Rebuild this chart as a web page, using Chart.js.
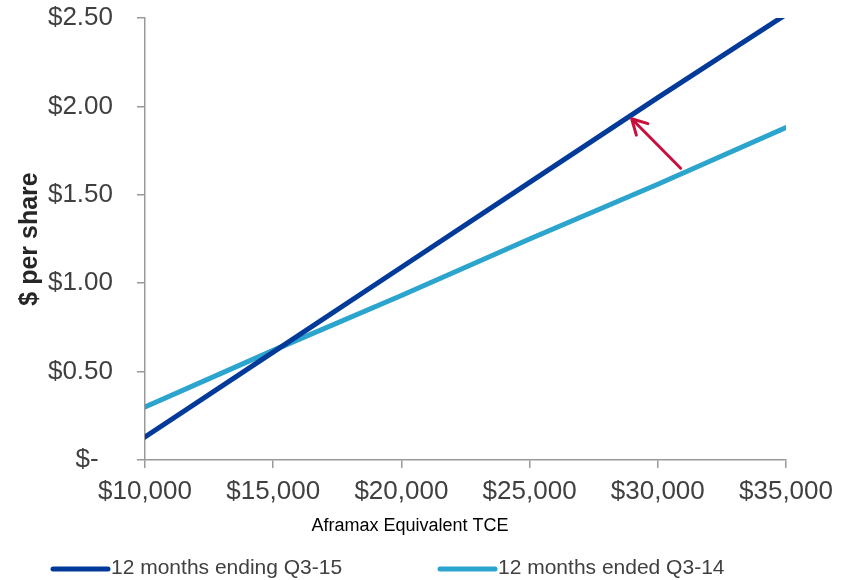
<!DOCTYPE html>
<html lang="en">
<head>
  <meta charset="utf-8">
  <title>$ per share vs Aframax TCE</title>
  <style>
    body { margin: 0; background: #fff; }
  </style>
</head>
<body>
  <canvas id="tceChart" width="846" height="580"></canvas>
  <script src="https://cdn.jsdelivr.net/npm/chart.js@4/dist/chart.umd.min.js"></script>
  <script>
    // values
    var tceLevels = [10000, 15000, 20000, 25000, 30000, 35000];
    var endingQ315 = [0.13, 0.61, 1.09, 1.57, 2.05, 2.52];
    var endedQ314 = [0.30, 0.62, 0.93, 1.25, 1.56, 1.88];
    var seriesNames = ['12 months ending Q3-15', '12 months ended Q3-14'];
    var arrowFrom = [30890, 1.65];
    var arrowTo = [28980, 1.93];

    var FONT = "'Liberation Sans', Arial, sans-serif";

    function toPoints(xs, ys) {
      return xs.map(function (x, i) { return { x: x, y: ys[i] }; });
    }

    // arrow + x title + legend, drawn from scales
    var extras = {
      id: 'extras',
      afterDatasetsDraw: function (chart) {
        var c = chart.ctx, xs = chart.scales.x, ys = chart.scales.y;
        var x1 = xs.getPixelForValue(arrowFrom[0]), y1 = ys.getPixelForValue(arrowFrom[1]);
        var x2 = xs.getPixelForValue(arrowTo[0]), y2 = ys.getPixelForValue(arrowTo[1]);
        var ang = Math.atan2(y2 - y1, x2 - x1);
        c.save();
        c.strokeStyle = '#C8103C';
        c.lineWidth = 3;
        c.lineCap = 'round';
        c.lineJoin = 'round';
        c.beginPath();
        c.moveTo(x1, y1);
        c.lineTo(x2, y2);
        c.moveTo(x2 - 17 * Math.cos(ang - 0.5), y2 - 17 * Math.sin(ang - 0.5));
        c.lineTo(x2, y2);
        c.lineTo(x2 - 17 * Math.cos(ang + 0.5), y2 - 17 * Math.sin(ang + 0.5));
        c.stroke();
        c.restore();
      },
      afterDraw: function (chart) {
        var c = chart.ctx;
        c.save();
        c.fillStyle = '#000';
        c.font = '18px ' + FONT;
        c.textAlign = 'center';
        c.textBaseline = 'alphabetic';
        c.fillText('Aframax Equivalent TCE', 410, 531);

        var items = [[53, 113], [440, 500]];
        c.font = '21px ' + FONT;
        c.textAlign = 'left';
        c.textBaseline = 'middle';
        chart.data.datasets.forEach(function (ds, i) {
          c.strokeStyle = ds.borderColor;
          c.lineWidth = 5;
          c.lineCap = 'round';
          c.beginPath();
          c.moveTo(items[i][0], 569);
          c.lineTo(items[i][0] + 55, 569);
          c.stroke();
          c.fillStyle = '#404040';
          c.fillText(ds.label, items[i][1] - 2, 568);
        });
        c.restore();
      }
    };

    var ctx = document.getElementById('tceChart');
    var chart = new Chart(ctx, {
      type: 'line',
      data: {
        datasets: [
          {
            label: seriesNames[0],
            data: toPoints(tceLevels, endingQ315),
            borderColor: '#023A9A',
            backgroundColor: '#023A9A',
            borderWidth: 5,
            borderCapStyle: 'round',
            pointRadius: 0,
            tension: 0
          },
          {
            label: seriesNames[1],
            data: toPoints(tceLevels, endedQ314),
            borderColor: '#2BA4CE',
            backgroundColor: '#2BA4CE',
            borderWidth: 5,
            borderCapStyle: 'round',
            pointRadius: 0,
            tension: 0
          }
        ]
      },
      options: {
        responsive: false,
        animation: false,
        layout: { padding: { left: 0, right: 60, top: 18, bottom: 0 } },
        plugins: {
          legend: { display: false },
          tooltip: { enabled: false }
        },
        scales: {
          x: {
            type: 'linear',
            min: 10000,
            max: 35000,
            afterFit: function (s) { s.height = 120; s.paddingLeft = 0; s.paddingRight = 0; },
            border: { color: '#999', width: 1.5 },
            grid: { drawOnChartArea: false, tickLength: 8, color: '#999', lineWidth: 1.5 },
            ticks: {
              stepSize: 5000,
              padding: 8,
              color: '#404040',
              font: { family: FONT, size: 26 },
              maxRotation: 0,
              callback: function (v) { return '$' + v.toLocaleString('en-US'); }
            }
          },
          y: {
            min: 0,
            max: 2.5,
            afterFit: function (s) { s.width = 145; s.paddingTop = 0; s.paddingBottom = 0; },
            border: { color: '#999', width: 1.5 },
            grid: { drawOnChartArea: false, tickLength: 8, color: '#999', lineWidth: 1.5 },
            title: {
              display: true,
              text: '$ per share',
              color: '#262626',
              font: { family: FONT, size: 25, weight: 'bold' },
              padding: { top: 15, bottom: 0 }
            },
            ticks: {
              stepSize: 0.5,
              padding: 24,
              color: '#404040',
              font: { family: FONT, size: 26 },
              callback: function (v) { return v === 0 ? '$-  ' : '$' + v.toFixed(2); }
            }
          }
        }
      },
      plugins: [extras]
    });
  </script>
</body>
</html>
